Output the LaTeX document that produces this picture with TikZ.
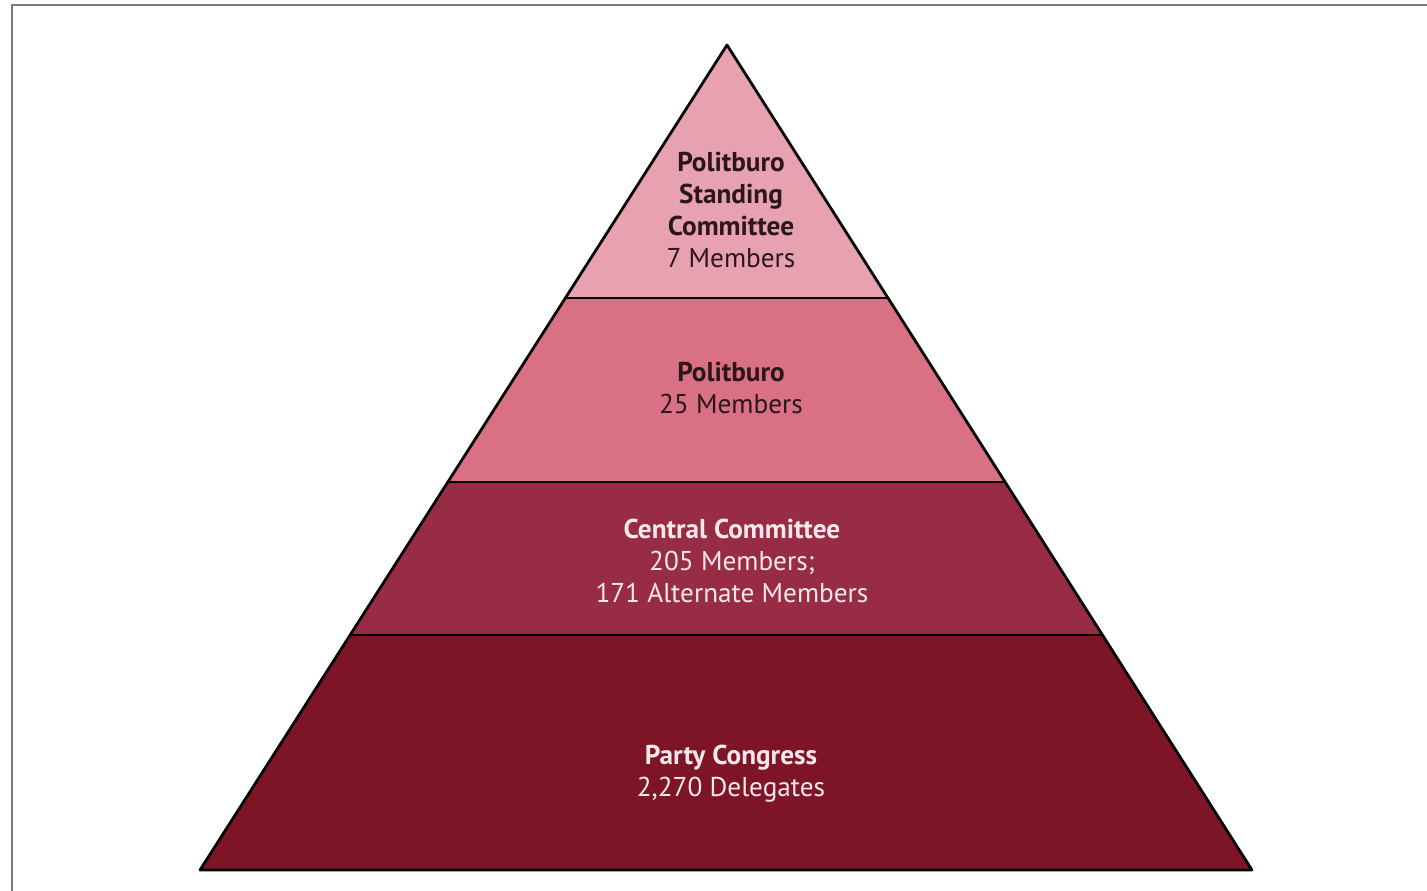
\documentclass[tikz,border=0pt]{standalone}
\usepackage{fontspec}
\setmainfont{PT Sans}
\usetikzlibrary{calc}
\definecolor{standcol}{HTML}{E8A1B0}
\definecolor{politcol}{HTML}{D97084}
\definecolor{centcol}{HTML}{982C45}
\definecolor{partycol}{HTML}{7E1527}
\definecolor{darktext}{HTML}{2A161B}
\definecolor{lighttext}{HTML}{F8E8EC}
\definecolor{framecol}{HTML}{7A7A7A}
\tikzset{
  edge/.style={line width=0.055cm, black, line join=round},
  tier/.style={align=center, font=\fontsize{15.5}{18.3}\selectfont},
}

\begin{document}
\begin{tikzpicture}[x=0.02cm, y=-0.02cm]
			%%%%% START %%%%%
			\useasboundingbox (0, 0) rectangle (1427, 891);
			
			\draw[framecol, line width=0.05cm] (12, 891) -- (12, 5) -- (1427, 5);
			
			\coordinate (apex) at (727, 45);
			\coordinate (bl) at (200, 870);
			\coordinate (br) at (1252, 870);
			
			\coordinate (l1) at ($(apex)!0.3067!(bl)$);
			\coordinate (r1) at ($(apex)!0.3067!(br)$);
			\coordinate (l2) at ($(apex)!0.5297!(bl)$);
			\coordinate (r2) at ($(apex)!0.5297!(br)$);
			\coordinate (l3) at ($(apex)!0.7152!(bl)$);
			\coordinate (r3) at ($(apex)!0.7152!(br)$);
			
			\fill[standcol] (apex) -- (l1) -- (r1) -- cycle;
			\fill[politcol] (l1) -- (l2) -- (r2) -- (r1) -- cycle;
			\fill[centcol] (l2) -- (l3) -- (r3) -- (r2) -- cycle;
			\fill[partycol] (l3) -- (bl) -- (br) -- (r3) -- cycle;
			
			\draw[edge] (apex) -- (bl) -- (br) -- cycle;
			\draw[edge] (l1) -- (r1);
			\draw[edge] (l2) -- (r2);
			\draw[edge] (l3) -- (r3);
			
			\node[tier, text=darktext] (standing) at (731, 210)
				{\textbf{Politburo}\\\textbf{Standing}\\\textbf{Committee}\\7 Members};
			\node[tier, text=darktext] (politburo) at (731, 388)
				{\textbf{Politburo}\\25 Members};
			\node[tier, text=lighttext] (central) at (732, 561)
				{\textbf{Central Committee}\\205 Members;\\171 Alternate Members};
			\node[tier, text=lighttext] (congress) at (731, 774)
				{\textbf{Party Congress}\\2,270 Delegates};
			
			%%%%% END %%%%%
\end{tikzpicture}
\end{document}
